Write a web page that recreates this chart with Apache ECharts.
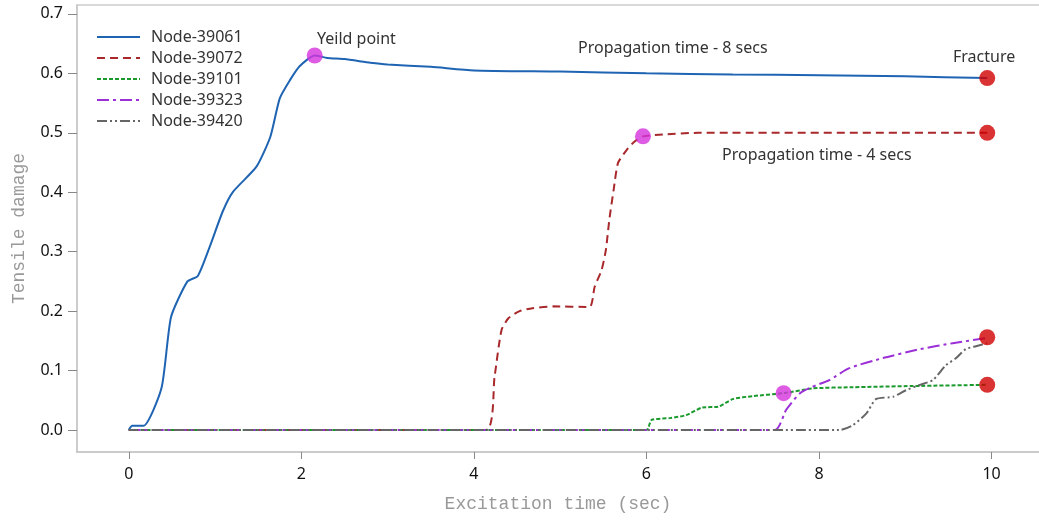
<!DOCTYPE html>
<html>
<head>
<meta charset="utf-8">
<script src="https://cdn.jsdelivr.net/npm/echarts@6/dist/echarts.min.js"></script>
<style>
  html, body { margin: 0; padding: 0; background: #fff; }
  #chart { width: 1039px; height: 521px; }
</style>
</head>
<body>
<div id="chart"></div>
<script>
// values: [time (sec), tensile damage]
var node39061 = [[0, 0], [0.04, 0.007], [0.17, 0.007], [0.38, 0.071], [0.49, 0.19], [0.68, 0.25], [0.8, 0.259],
	[0.94, 0.309], [1.09, 0.368], [1.21, 0.401], [1.48, 0.443], [1.64, 0.493], [1.75, 0.558], [1.87, 0.589],
	[1.98, 0.612], [2.155, 0.63], [2.3, 0.626], [2.5, 0.624], [2.8, 0.618], [3.0, 0.615], [3.5, 0.611],
	[4.0, 0.605], [5.0, 0.603], [6.0, 0.6], [7.0, 0.598], [8.0, 0.597], [9.0, 0.595], [9.95, 0.592]];
var node39072 = [[0, 0], [4.14, 0], [4.24, 0.09], [4.32, 0.168], [4.4, 0.188], [4.53, 0.2], [4.68, 0.205],
	[4.92, 0.208], [5.34, 0.207], [5.4, 0.241], [5.48, 0.269], [5.53, 0.303], [5.57, 0.354], [5.62, 0.404],
	[5.67, 0.449], [5.77, 0.471], [5.86, 0.485], [5.96, 0.494], [6.19, 0.497], [6.6, 0.5], [9.95, 0.5]];
var node39101 = [[0, 0], [6.0, 0], [6.06, 0.017], [6.27, 0.02], [6.46, 0.025], [6.65, 0.038], [6.83, 0.039],
	[7.0, 0.052], [7.23, 0.057], [7.59, 0.062], [7.93, 0.07], [8.39, 0.072], [9.09, 0.074], [9.95, 0.076]];
var node39323 = [[0, 0], [7.49, 0], [7.62, 0.034], [7.78, 0.062], [7.91, 0.072], [8.12, 0.084], [8.35, 0.104],
	[8.74, 0.121], [9.17, 0.136], [9.55, 0.146], [9.95, 0.155]];
var node39420 = [[0, 0], [8.24, 0], [8.39, 0.008], [8.55, 0.028], [8.66, 0.052], [8.86, 0.056], [9.01, 0.067],
	[9.17, 0.076], [9.32, 0.084], [9.47, 0.109], [9.59, 0.121], [9.7, 0.136], [9.82, 0.141], [9.95, 0.146]];

var yieldPoints = [[2.155, 0.63], [5.96, 0.494], [7.59, 0.062]];
var fracturePoints = [[9.95, 0.592], [9.95, 0.5], [9.95, 0.156], [9.95, 0.076]];

var xTicks = [0, 2, 4, 6, 8, 10];
var yTicks = [0, 0.1, 0.2, 0.3, 0.4, 0.5, 0.6, 0.7];

var chart = echarts.init(document.getElementById('chart'));

function nodeSeries(name, data, color, dash) {
	return {
		name: name,
		type: 'line',
		data: data,
		symbol: 'none',
		smooth: 0.2,
		lineStyle: { color: color, width: 2, type: dash },
		itemStyle: { color: color },
		z: 3
	};
}

var labelFont = { fontFamily: 'Noto Sans', fontSize: 16, fill: '#333' };
var titleFont = "'Liberation Mono', 'Cousine', 'Courier New', monospace";

var option = {
	animation: false,
	backgroundColor: '#fff',
	grid: { left: 77, top: 5, right: 0, bottom: 69, outerBoundsMode: 'none' },
	legend: {
		orient: 'vertical',
		left: 96,
		top: 29,
		padding: 0,
		itemWidth: 43,
		itemHeight: 16,
		itemGap: 5,
		itemStyle: { opacity: 0 },
		data: ['Node-39061', 'Node-39072', 'Node-39101', 'Node-39323', 'Node-39420'],
		textStyle: { fontFamily: 'Noto Sans', fontSize: 16, color: '#333', lineHeight: 16, padding: [0, 0, 0, 6] }
	},
	xAxis: [{
		type: 'value',
		min: -0.6,
		max: 10.55,
		name: 'Excitation time (sec)',
		nameLocation: 'middle',
		nameGap: 43,
		nameTextStyle: { fontFamily: titleFont, fontSize: 18, color: '#999' },
		splitLine: { show: false },
		axisLine: { onZero: false, lineStyle: { color: '#bbb', width: 1.5 } },
		axisTick: { show: true, customValues: xTicks, length: 7, lineStyle: { color: '#888', width: 1 } },
		axisLabel: { customValues: xTicks, fontFamily: 'Noto Sans', fontSize: 16, color: '#111', margin: 14 }
	}, {
		type: 'value',
		position: 'top',
		min: -0.6,
		max: 10.55,
		splitLine: { show: false },
		axisLine: { show: true, onZero: false, lineStyle: { color: '#ccc', width: 1.5 } },
		axisTick: { show: false },
		axisLabel: { show: false }
	}],
	yAxis: {
		type: 'value',
		min: -0.037,
		max: 0.715,
		name: 'Tensile damage',
		nameLocation: 'middle',
		nameGap: 49,
		nameTextStyle: { fontFamily: titleFont, fontSize: 18, color: '#999' },
		splitLine: { show: false },
		axisLine: { show: true, onZero: false, lineStyle: { color: '#bbb', width: 1.5 } },
		axisTick: { show: true, customValues: yTicks, length: 9, lineStyle: { color: '#888', width: 1 } },
		axisLabel: {
			customValues: yTicks, fontFamily: 'Noto Sans', fontSize: 16, color: '#111', margin: 14,
			formatter: function(v) { return v.toFixed(1); }
		}
	},
	series: [
		nodeSeries('Node-39061', node39061, '#1f64b2', 'solid'),
		nodeSeries('Node-39072', node39072, '#a8282c', [8, 5]),
		nodeSeries('Node-39101', node39101, '#1a9a2c', [4, 2]),
		nodeSeries('Node-39323', node39323, '#9b30d6', [12, 4, 3, 4]),
		nodeSeries('Node-39420', node39420, '#666666', [10, 3, 2, 3, 2, 3]),
		{
			name: 'Yield', type: 'scatter', data: yieldPoints, symbolSize: 16,
			itemStyle: { color: '#d633dd' }, z: 5
		},
		{
			name: 'Fracture', type: 'scatter', data: fracturePoints, symbolSize: 16,
			itemStyle: { color: '#d00000' }, z: 5
		}
	],
	graphic: [
		{ type: 'text', left: 317, top: 31, style: Object.assign({ text: 'Yeild point' }, labelFont) },
		{ type: 'text', left: 578, top: 40, style: Object.assign({ text: 'Propagation time - 8 secs' }, labelFont) },
		{ type: 'text', left: 953, top: 49, style: Object.assign({ text: 'Fracture' }, labelFont) },
		{ type: 'text', left: 722, top: 147, style: Object.assign({ text: 'Propagation time - 4 secs' }, labelFont) }
	]
};

chart.setOption(option);
</script>
</body>
</html>
